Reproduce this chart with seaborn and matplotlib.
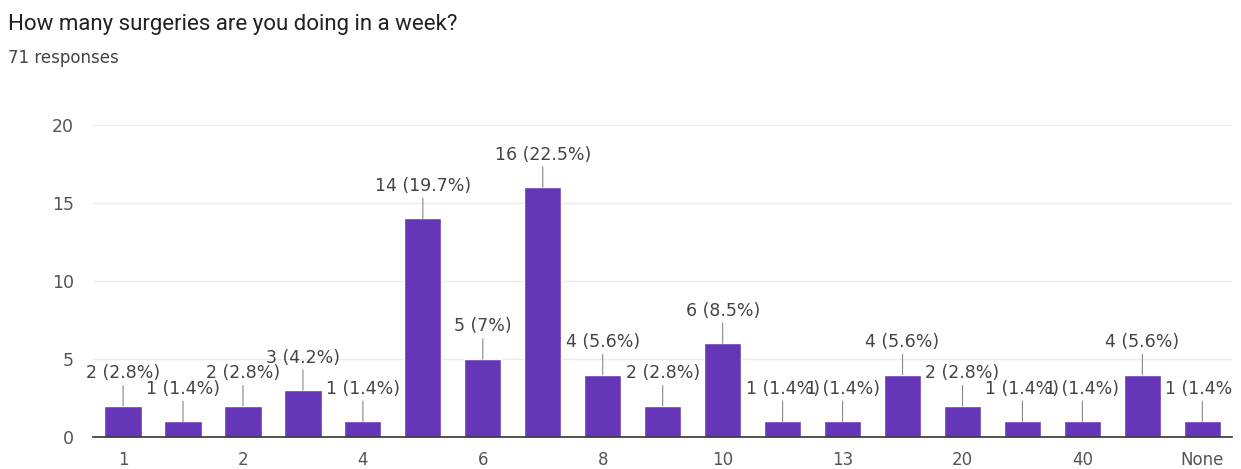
import matplotlib
matplotlib.use("Agg")
import matplotlib.pyplot as plt
from matplotlib.transforms import Bbox, TransformedBbox
import seaborn as sns
import pandas as pd

# ---- data ----
categories = ["1", "1-2", "2", "3", "4", "5", "6", "7", "8", "9",
              "10", "12", "13", "15", "20", "30", "40", "50", "None"]
counts = [2, 1, 2, 3, 1, 14, 5, 16, 4, 2, 6, 1, 1, 4, 2, 1, 1, 4, 1]
total_responses = 71
title_text = "How many surgeries are you doing in a week?"
subtitle_text = "71 responses"
y_ticks = [0, 5, 10, 15, 20]

BAR = "#6537b8"
TXT = "#444444"

sns.set_theme(style="white")
plt.rcParams["font.family"] = ["DejaVu Sans"]

df = pd.DataFrame({"cat": categories, "count": counts})

fig = plt.figure(figsize=(12.41, 4.69), dpi=100)
ax = fig.add_axes([0.075, 0.068, 0.918, 0.666])

sns.barplot(data=df, x="cat", y="count", order=categories, color=BAR,
            saturation=1, width=0.62, ax=ax, zorder=3)

ax.set_xlim(-0.5, len(categories) - 0.5)
ax.set_ylim(0, 20)
ax.set_yticks(y_ticks)
ax.set_yticklabels([str(t) for t in y_ticks], color="#555555", fontsize=12.5)
ax.yaxis.grid(True, color="#ebebeb", linewidth=1, zorder=0)
ax.set_axisbelow(True)

tick_labels = [c if i % 2 == 0 else "" for i, c in enumerate(categories)]
ax.set_xticks(range(len(categories)))
ax.set_xticklabels(tick_labels, color="#555555", fontsize=12)
ax.tick_params(axis="both", length=0)
ax.tick_params(axis="y", pad=14)
ax.tick_params(axis="x", pad=10)
ax.set_xlabel("")
ax.set_ylabel("")

for s in ["top", "right", "left"]:
    ax.spines[s].set_visible(False)
ax.spines["bottom"].set_color("#333333")
ax.spines["bottom"].set_linewidth(1.2)
ax.spines["bottom"].set_zorder(5)

# clip labels only at the right edge of the plot area (as in the reference)
clip = TransformedBbox(Bbox([[-0.2, 0.0], [1.0, 1.2]]), ax.transAxes)

for i, v in enumerate(counts):
    pct = round(v / total_responses * 100, 1)
    pct_s = f"{pct:.1f}".rstrip("0").rstrip(".")
    ann = ax.annotate(f"{v} ({pct_s}%)", xy=(i, v), xytext=(0, 17),
                      textcoords="offset points", ha="center", va="bottom",
                      fontsize=12.5, color=TXT,
                      arrowprops=dict(arrowstyle="-", color="#888888",
                                      linewidth=0.8, shrinkA=0, shrinkB=0),
                      annotation_clip=False, zorder=6)
    ann.set_clip_on(True)
    ann.set_clip_box(clip)

fig.text(0.0065, 0.935, title_text, fontsize=16, color="#202124",
         ha="left", va="baseline", family=["Roboto", "DejaVu Sans"])
fig.text(0.0065, 0.866, subtitle_text, fontsize=12, color="#444444",
         ha="left", va="baseline")

fig.savefig("out.png", dpi=100, facecolor="white")
